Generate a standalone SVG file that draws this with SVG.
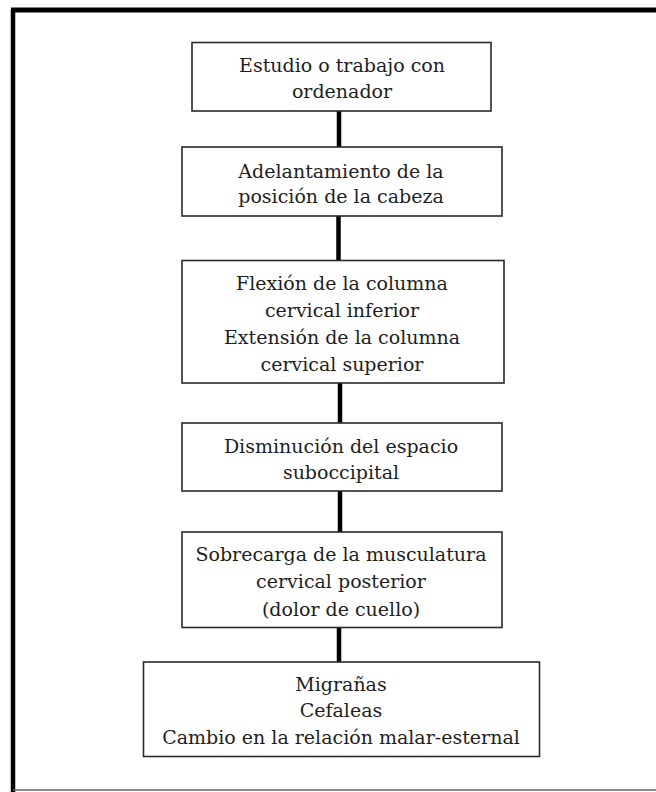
<svg xmlns="http://www.w3.org/2000/svg" width="656" height="792" viewBox="0 0 656 792">
<style>
.box{fill:#fff;stroke:#2a2a2a;stroke-width:1.6}
.t{font-family:"DejaVu Serif","Liberation Serif",serif;font-size:19px;fill:#1e1e1e;text-anchor:middle}
.c{stroke:#000;stroke-width:4.5;fill:none}
</style>
<rect width="656" height="792" fill="#fff"/>
<g id="frame">
<line x1="13" y1="10" x2="13" y2="792" stroke="#000" stroke-width="4.5"/>
<line x1="11" y1="10" x2="656" y2="10" stroke="#000" stroke-width="5"/>
<line x1="13" y1="790" x2="656" y2="790" stroke="#666" stroke-width="1.5"/>
</g>
<g id="connectors">
<line class="c" x1="339" y1="111" x2="339" y2="147"/>
<line class="c" x1="338.5" y1="216" x2="338.5" y2="261"/>
<line class="c" x1="340" y1="383" x2="340" y2="423"/>
<line class="c" x1="340" y1="491" x2="340" y2="532"/>
<line class="c" x1="339" y1="627" x2="339" y2="662"/>
</g>
<g id="n1">
<rect class="box" x="192" y="42.5" width="299" height="68.5"/>
<text class="t" x="342" y="72">Estudio o trabajo con</text>
<text class="t" x="342" y="98">ordenador</text>
</g>
<g id="n2">
<rect class="box" x="182" y="147" width="320" height="69"/>
<text class="t" x="341" y="178">Adelantamiento de la</text>
<text class="t" x="341" y="203">posición de la cabeza</text>
</g>
<g id="n3">
<rect class="box" x="182" y="260.5" width="322" height="122.5"/>
<text class="t" x="342" y="290">Flexión de la columna</text>
<text class="t" x="342" y="317">cervical inferior</text>
<text class="t" x="342" y="344">Extensión de la columna</text>
<text class="t" x="342" y="371">cervical superior</text>
</g>
<g id="n4">
<rect class="box" x="182" y="423" width="320" height="68"/>
<text class="t" x="341" y="453">Disminución del espacio</text>
<text class="t" x="341" y="479">suboccipital</text>
</g>
<g id="n5">
<rect class="box" x="182" y="532" width="320" height="95.5"/>
<text class="t" x="341" y="561">Sobrecarga de la musculatura</text>
<text class="t" x="341" y="588">cervical posterior</text>
<text class="t" x="341" y="615.5">(dolor de cuello)</text>
</g>
<g id="n6">
<rect class="box" x="143.5" y="662" width="396" height="94.5"/>
<text class="t" x="341" y="691">Migrañas</text>
<text class="t" x="341" y="717">Cefaleas</text>
<text class="t" x="341" y="744">Cambio en la relación malar-esternal</text>
</g>
</svg>
